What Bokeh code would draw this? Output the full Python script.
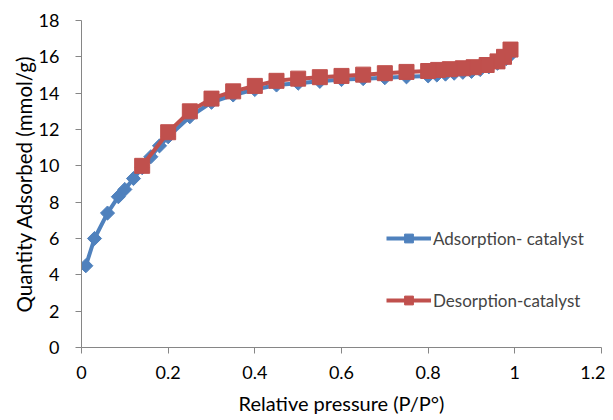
import math
from bokeh.plotting import figure
from bokeh.models import Range1d, FixedTicker, Legend, LegendItem
from bokeh.embed import file_html
from bokeh.resources import INLINE

# Adsorption branch
ads_x = [0.01, 0.03, 0.06, 0.085, 0.10, 0.12, 0.14, 0.16, 0.18, 0.20, 0.25, 0.30, 0.35,
         0.40, 0.45, 0.50, 0.55, 0.60, 0.65, 0.70, 0.75, 0.80, 0.82, 0.84, 0.86, 0.88,
         0.90, 0.92, 0.94, 0.96, 0.98, 0.99]
ads_y = [4.5, 6.0, 7.4, 8.3, 8.7, 9.3, 9.9, 10.5, 11.1, 11.6, 12.7, 13.5, 13.9,
         14.2, 14.45, 14.55, 14.65, 14.75, 14.8, 14.85, 14.9, 14.95, 15.0, 15.05, 15.1, 15.15,
         15.2, 15.3, 15.45, 15.65, 15.9, 16.1]

# Desorption branch
des_x = [0.99, 0.975, 0.96, 0.935, 0.905, 0.88, 0.85, 0.823, 0.80, 0.75, 0.70, 0.65,
         0.60, 0.55, 0.50, 0.45, 0.40, 0.35, 0.30, 0.25, 0.20, 0.14]
des_y = [16.4, 16.0, 15.75, 15.55, 15.43, 15.37, 15.32, 15.28, 15.22, 15.17, 15.1, 15.02,
         14.95, 14.88, 14.8, 14.68, 14.4, 14.1, 13.7, 13.0, 11.85, 10.0]

x_ticks = [0, 0.2, 0.4, 0.6, 0.8, 1.0, 1.2]
x_tick_labels = ["0", "0.2", "0.4", "0.6", "0.8", "1", "1.2"]
y_ticks = [0, 2, 4, 6, 8, 10, 12, 14, 16, 18]

BLUE = "#4F81BD"
RED = "#C0504D"
AXIS = "#868686"
FONT = "Lato"

p = figure(width=605, height=420, output_backend="svg", toolbar_location=None,
           x_range=Range1d(0, 1.2), y_range=Range1d(0, 18),
           min_border_left=81, min_border_right=4, min_border_top=20, min_border_bottom=73)
p.outline_line_color = None
p.xgrid.visible = False
p.ygrid.visible = False
p.background_fill_color = "white"

l1 = p.line(ads_x, ads_y, line_color=BLUE, line_width=4)
m1 = p.scatter(ads_x, ads_y, marker="square", angle=math.pi / 4, size=10,
               fill_color=BLUE, line_color=BLUE)
l2 = p.line(des_x, des_y, line_color=RED, line_width=4)
m2 = p.scatter(des_x, des_y, marker="square", size=15, fill_color=RED, line_color=RED)

for ax in (p.xaxis[0], p.yaxis[0]):
    ax.axis_line_color = AXIS
    ax.axis_line_width = 1
    ax.major_tick_line_color = AXIS
    ax.major_tick_in = 0
    ax.major_tick_out = 6
    ax.minor_tick_line_color = None
    ax.major_label_text_font = FONT
    ax.major_label_text_font_size = "18px"
    ax.major_label_text_color = "#000000"
    ax.axis_label_text_font = FONT
    ax.axis_label_text_font_style = "normal"
    ax.axis_label_text_color = "#000000"

p.xaxis.ticker = FixedTicker(ticks=x_ticks)
p.xaxis.major_label_overrides = {t: s for t, s in zip(x_ticks, x_tick_labels)}
p.xaxis.major_label_standoff = 12
p.xaxis.axis_label = "Relative pressure (P/P°)"
p.xaxis.axis_label_text_font_size = "20px"
p.xaxis.axis_label_standoff = 9

p.yaxis.ticker = FixedTicker(ticks=y_ticks)
p.yaxis.major_label_standoff = 16
p.yaxis.axis_label = "Quantity Adsorbed (mmol/g)"
p.yaxis.axis_label_text_font_size = "20.5px"
p.yaxis.axis_label_standoff = 0

legend = Legend(items=[LegendItem(label="Adsorption- catalyst", renderers=[l1, m1]),
                       LegendItem(label="Desorption-catalyst", renderers=[l2, m2])],
                location=(305, 36), orientation="vertical",
                border_line_color=None, background_fill_alpha=0,
                padding=0, margin=0, spacing=40,
                glyph_width=45, glyph_height=22, label_height=22, label_standoff=2,
                label_text_font=FONT, label_text_font_size="17px")
p.add_layout(legend)

open("out.html", "w").write(file_html(p, INLINE))
